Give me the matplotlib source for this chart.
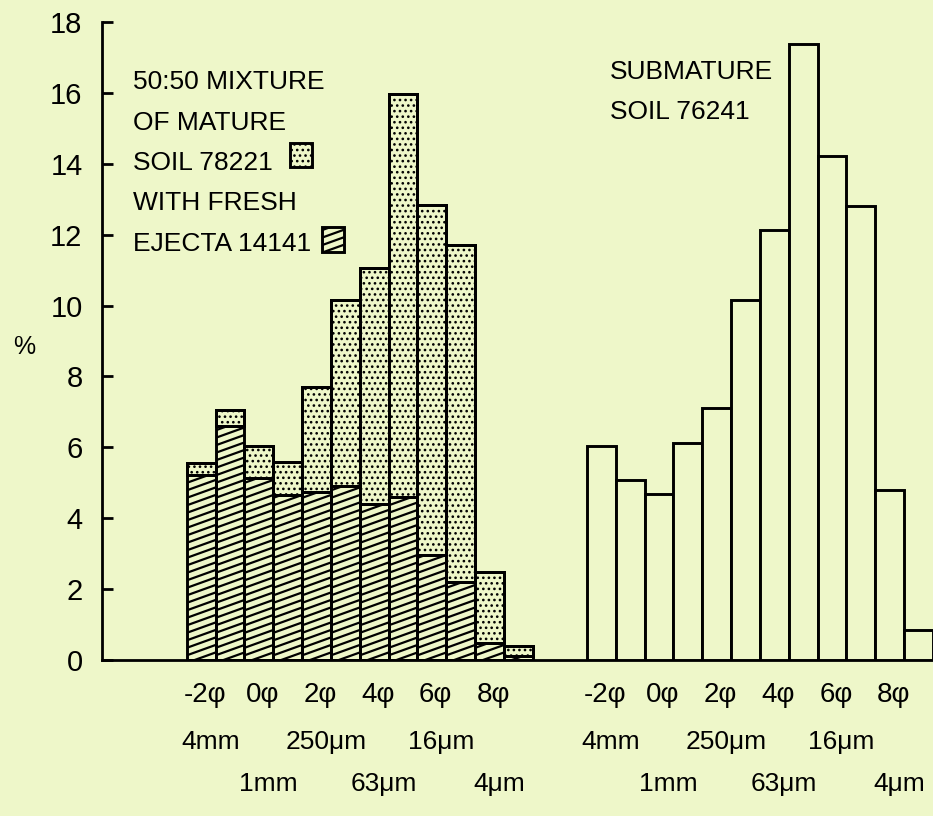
import matplotlib
matplotlib.use("Agg")
import matplotlib.pyplot as plt
from matplotlib.patches import Rectangle
from matplotlib.collections import LineCollection

# ---- data ----
phi = [-2, -1, 0, 1, 2, 3, 4, 5, 6, 7, 8, 9]

# 50:50 mixture (total height, stippled) and fresh ejecta part (hatched)
mix_total = [5.56, 7.04, 6.03, 5.58, 7.71, 10.17, 11.07, 15.96, 12.85, 11.72, 2.47, 0.4]
mix_ejecta = [5.23, 6.59, 5.13, 4.66, 4.75, 4.9, 4.41, 4.61, 2.97, 2.21, 0.48, 0.12]

# submature soil 76241
submature = [6.03, 5.08, 4.67, 6.12, 7.11, 10.16, 12.12, 17.39, 14.22, 12.8, 4.8, 0.85]

phi_ticks = [-2, 0, 2, 4, 6, 8]
phi_labels = ["-2\u03c6", "0\u03c6", "2\u03c6", "4\u03c6", "6\u03c6", "8\u03c6"]
size_labels = ["4mm", "1mm", "250\u03bcm", "63\u03bcm", "16\u03bcm", "4\u03bcm"]

y_ticks = [0, 2, 4, 6, 8, 10, 12, 14, 16, 18]

# ---- style ----
BG = "#eef7c9"
FONT = ["Liberation Sans Narrow", "Liberation Sans", "DejaVu Sans"]
plt.rcParams["font.family"] = FONT
plt.rcParams["hatch.linewidth"] = 1.1

W, H = 933, 816
fig = plt.figure(figsize=(W / 100, H / 100), dpi=100, facecolor=BG)
ax = fig.add_axes([102 / W, (H - 660) / H, (W - 102) / W, 638 / H])
ax.set_facecolor(BG)

RIGHT_OFF = 13.88          # gap between the two histograms, in bar widths
PX_X = 831 / 28.82         # pixels per bar width
PX_Y = 638 / 18            # pixels per percent
slope = 0.36 * PX_X / PX_Y
step = 7.5 / PX_Y


def hatch_rect(patch, x0, x1, y0, y1):
    """draw shallow diagonal lines clipped to a rectangle"""
    segs = []
    b = y0 - slope * (x1 - x0)
    while b < y1:
        segs.append([(x0, b), (x1, b + slope * (x1 - x0))])
        b += step
    lc = LineCollection(segs, colors="black", linewidths=1.6, zorder=2)
    ax.add_collection(lc)
    lc.set_clip_path(patch)  # after add_collection, else axes clip wins


lw = 2.1
xl = [p + 2 for p in phi]
bars_e = ax.bar(xl, mix_ejecta, width=1, align="edge", color="none",
                edgecolor="black", linewidth=lw, zorder=3)
for b in bars_e:
    hatch_rect(b, b.get_x(), b.get_x() + 1, 0, b.get_height())
top = [t - e for t, e in zip(mix_total, mix_ejecta)]
ax.bar(xl, top, bottom=mix_ejecta, width=1, align="edge", color=BG,
       edgecolor="black", linewidth=lw, hatch="...", zorder=1)
# outline again on top so the dots don't cover the edges
ax.bar(xl, top, bottom=mix_ejecta, width=1, align="edge", color="none",
       edgecolor="black", linewidth=lw, zorder=4)

xr = [p + 2 + RIGHT_OFF for p in phi]
ax.bar(xr, submature, width=1, align="edge", color=BG,
       edgecolor="black", linewidth=lw, zorder=3)

# legend boxes
box_s = Rectangle((3.6, 13.9), 0.76, 0.68, facecolor=BG, edgecolor="black",
                  linewidth=lw, hatch="...", zorder=3)
ax.add_patch(box_s)
box_h = Rectangle((4.68, 11.5), 0.76, 0.72, facecolor="none", edgecolor="black",
                  linewidth=lw, zorder=3)
ax.add_patch(box_h)
hatch_rect(box_h, 4.68, 5.44, 11.5, 12.22)

ax.set_xlim(-2.936, 12 + RIGHT_OFF)
ax.set_ylim(0, 18)
for s in ["top", "right"]:
    ax.spines[s].set_visible(False)
ax.spines["left"].set_linewidth(2.0)
ax.spines["bottom"].set_linewidth(2.0)
ax.set_xticks([])
ax.set_yticks(y_ticks)
ax.set_yticklabels([str(v) for v in y_ticks])
ax.tick_params(axis="y", direction="in", length=8, width=2, labelsize=21, pad=14)

tr = ax.get_xaxis_transform()
for off in [0, RIGHT_OFF]:
    for i, (p, lab) in enumerate(zip(phi_ticks, phi_labels)):
        x = p + 2 + 0.63 + off
        ax.text(x, -0.055, lab, transform=tr, ha="center", va="center", fontsize=20)
        row = -0.128 if i % 2 == 0 else -0.194
        ax.text(x + 0.2, row, size_labels[i], transform=tr, ha="center",
                va="center", fontsize=19)

fig.text(24 / W, 1 - 347 / H, "%", fontsize=18, ha="center", va="center")

mix_lines = ["50:50 MIXTURE", "OF MATURE", "SOIL 78221", "WITH FRESH", "EJECTA 14141"]
for k, t in enumerate(mix_lines):
    fig.text(133 / W, 1 - (82 + 40.5 * k) / H, t, fontsize=19, ha="left", va="center")

sub_lines = ["SUBMATURE", "SOIL 76241"]
for k, t in enumerate(sub_lines):
    fig.text(610 / W, 1 - (72 + 40 * k) / H, t, fontsize=19, ha="left", va="center")

fig.savefig("out.png", dpi=100, facecolor=BG)
